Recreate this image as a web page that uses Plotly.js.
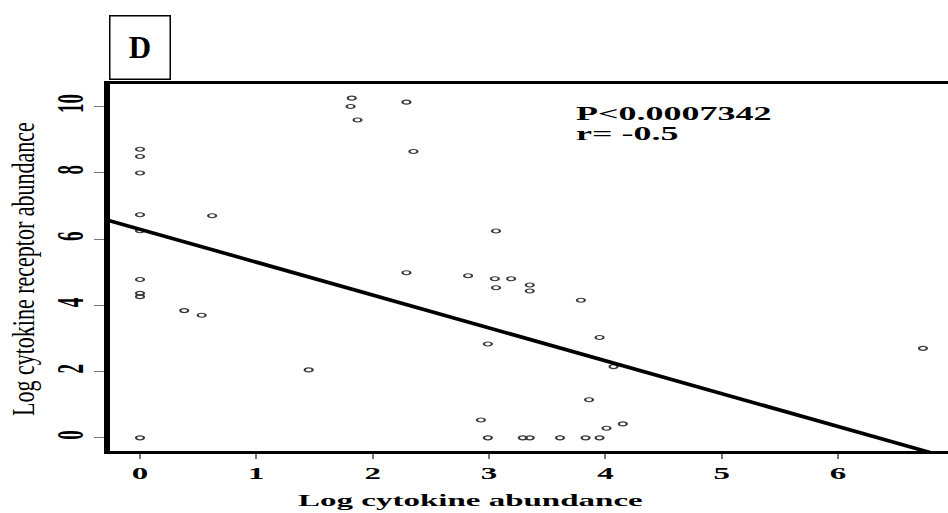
<!DOCTYPE html>
<html>
<head>
<meta charset="utf-8">
<script src="https://cdn.plot.ly/plotly-3.0.1.min.js"></script>
<style>
  html, body { margin: 0; padding: 0; background: #fff; overflow: hidden; }
  #plot { width: 474px; height: 513px; transform: scaleX(2); transform-origin: 0 0; }
</style>
</head>
<body>
<div id="plot"></div>
<script>
// Data
const cytokine = [0,0,0,0,0,0,0,0,0, 0.62,0.38,0.53,1.45,1.82,1.81,1.87,2.29,2.35,3.06,2.29,2.82,3.05,3.19,3.06,3.35,3.35,3.79,3.95,2.99,4.07,3.86,2.93,4.01,4.15,2.99,3.29,3.35,3.61,3.83,3.95,6.73];
const receptor = [8.71,8.49,7.99,6.73,6.25,4.78,4.36,4.26,0, 6.70,3.84,3.70,2.05,10.25,10.0,9.59,10.13,8.64,6.24,4.98,4.89,4.80,4.80,4.53,4.61,4.43,4.15,3.03,2.83,2.15,1.15,0.54,0.29,0.42,0,0,0,0,0,0,2.70];
const fitX = [-0.31, 6.95];
const fitY = [6.60, -0.60];
const xTicks = [0,1,2,3,4,5,6];
const yTicks = [0,2,4,6,8,10];
const panelLabel = 'D';
const xTitle = 'Log cytokine abundance';
const yTitle = 'Log cytokine receptor abundance';
const statLines = ['P<0.0007342', 'r= -0.5'];

const serif = 'Liberation Serif, Times New Roman, serif';

const traces = [
  {
    x: cytokine, y: receptor, type: 'scatter', mode: 'markers',
    marker: { symbol: 'circle-open', size: 4, color: '#3a3a3a', line: { width: 1.1, color: '#3a3a3a' } },
    hoverinfo: 'skip', showlegend: false
  },
  {
    x: fitX, y: fitY, type: 'scatter', mode: 'lines',
    line: { color: '#000', width: 3.3 },
    hoverinfo: 'skip', showlegend: false
  }
];

const layout = {
  width: 474, height: 513,
  margin: { l: 55, r: 0, t: 83.5, b: 61.5, pad: 0 },
  paper_bgcolor: '#fff', plot_bgcolor: '#fff',
  showlegend: false,
  xaxis: {
    range: [-0.258, 6.945], tickvals: xTicks, ticktext: xTicks.map(String),
    showgrid: false, zeroline: false,
    showline: true, linecolor: '#000', linewidth: 3, mirror: true,
    ticks: 'outside', ticklen: 5, tickwidth: 1, tickcolor: '#777',
    tickfont: { family: serif, size: 16.5, color: '#000', weight: 'bold' },
    fixedrange: true
  },
  yaxis: {
    range: [-0.397, 10.677], tickvals: yTicks, ticktext: yTicks.map(String),
    tickangle: -90, ticklabelstandoff: -2,
    showgrid: false, zeroline: false,
    showline: true, linecolor: '#000', linewidth: 3,
    ticks: 'outside', ticklen: 5, tickwidth: 1, tickcolor: '#777',
    tickfont: { family: serif, size: 19, color: '#000', weight: 'bold' },
    fixedrange: true
  },
  annotations: [
    {
      text: panelLabel, xref: 'paper', yref: 'paper', x: 0.0366, y: 1.1005,
      xanchor: 'center', yanchor: 'middle', showarrow: false,
      width: 59, height: 62, borderpad: 0, borderwidth: 1.5, bordercolor: '#000', bgcolor: '#fff',
      font: { family: serif, size: 31, color: '#000', weight: 'bold' }
    },
    {
      text: yTitle, xref: 'paper', yref: 'paper', x: -0.1026, y: 0.496,
      xanchor: 'center', yanchor: 'middle', showarrow: false, textangle: -90,
      font: { family: serif, size: 22, color: '#000' }
    },
    {
      text: xTitle, xref: 'paper', yref: 'paper', x: 0.4296, y: -0.136,
      xanchor: 'center', yanchor: 'middle', showarrow: false,
      font: { family: serif, size: 16.5, color: '#000', weight: 'bold' }
    },
    {
      text: statLines[0], xref: 'paper', yref: 'paper', x: 0.5525, y: 0.918,
      xanchor: 'left', yanchor: 'middle', showarrow: false,
      font: { family: serif, size: 18, color: '#000', weight: 'bold' }
    },
    {
      text: statLines[1], xref: 'paper', yref: 'paper', x: 0.5525, y: 0.864,
      xanchor: 'left', yanchor: 'middle', showarrow: false,
      font: { family: serif, size: 18, color: '#000', weight: 'bold' }
    }
  ]
};

Plotly.newPlot('plot', traces, layout, { displayModeBar: false, staticPlot: true }).then(function () {
  // The reference image is stretched horizontally; the panel label and y title are not.
  const counter = { '0': 0.5, '1': 0.72 };
  document.querySelectorAll('#plot g.annotation').forEach(function (g) {
    const idx = g.getAttribute('data-index');
    if (counter[idx] !== undefined) {
      g.style.transformBox = 'fill-box';
      g.style.transformOrigin = 'center';
      g.style.transform = 'scaleX(' + counter[idx] + ')';
    }
  });
});
</script>
</body>
</html>
